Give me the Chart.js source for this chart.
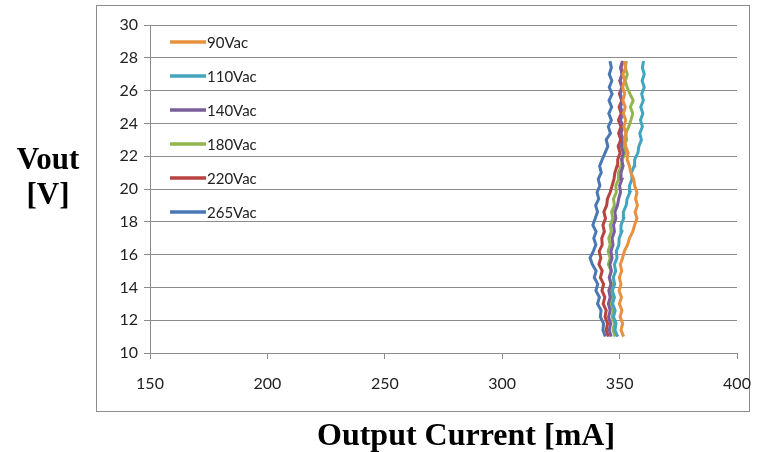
<!DOCTYPE html>
<html>
<head>
<meta charset="utf-8">
<script src="https://cdn.jsdelivr.net/npm/chart.js@4.4.1/dist/chart.umd.min.js"></script>
<style>
  body { margin: 0; background: #fff; }
  #wrap { position: relative; width: 762px; height: 452px; }
  canvas { position: absolute; left: 0; top: 0; }
  .ttl { position: absolute; font-family: 'Liberation Serif', serif; font-weight: bold; color: #000; white-space: nowrap; }
</style>
</head>
<body>
<div id="wrap">
  <canvas id="myChart" width="762" height="452"></canvas>
  <div class="ttl" style="left:8px; width:80px; top:141px; text-align:center; font-size:31px; line-height:35px;">Vout<br>[V]</div>
  <div class="ttl" style="left:317px; top:418px; font-size:32px; line-height:32px;">Output Current [mA]</div>
</div>
<script>
// output voltage steps (y)
const vout = [11.0, 11.4, 11.8, 12.2, 12.6, 13.0, 13.4, 13.8, 14.2, 14.6, 15.0, 15.4, 15.8, 16.2, 16.6,
  17.0, 17.4, 17.8, 18.2, 18.6, 19.0, 19.4, 19.8, 20.2, 20.6, 21.0, 21.4, 21.8, 22.2, 22.6,
  23.0, 23.4, 23.8, 24.2, 24.6, 25.0, 25.4, 25.8, 26.2, 26.6, 27.0, 27.4, 27.8];

// output current in mA, one array per input voltage
const i90 = [351.7, 350.6, 351.3, 350.2, 351.0, 349.9, 350.8, 349.8, 350.6, 349.9, 350.9, 350.3, 351.3, 352.0, 353.4,
  354.2, 355.6, 356.4, 357.4, 356.6, 357.6, 356.8, 357.4, 356.4, 356.0, 354.8, 354.2, 353.2, 353.6, 352.6,
  352.0, 352.8, 351.8, 352.6, 351.6, 352.4, 351.4, 352.2, 351.3, 352.1, 351.4, 352.6, 352.0];
const i110 = [349.2, 348.0, 348.5, 347.4, 348.1, 347.0, 347.8, 346.9, 347.9, 347.3, 348.3, 347.8, 348.9, 348.6, 349.7,
  349.8, 350.9, 350.6, 351.7, 351.6, 352.8, 353.2, 354.4, 354.2, 355.3, 355.0, 356.2, 356.4, 357.8, 358.2,
  359.3, 358.6, 359.7, 358.9, 359.9, 359.0, 360.1, 359.4, 360.5, 359.6, 360.5, 359.7, 360.2];
const i140 = [346.4, 345.6, 346.2, 345.3, 346.0, 345.2, 346.0, 345.4, 346.3, 345.6, 346.5, 345.9, 346.8, 346.3, 347.2,
  346.8, 347.8, 347.4, 348.4, 348.0, 349.1, 349.6, 350.4, 350.0, 351.0, 350.6, 351.5, 350.8, 351.6, 350.7,
  351.5, 350.6, 351.4, 350.4, 351.3, 350.4, 351.2, 350.3, 351.1, 350.2, 351.0, 350.4, 351.2];
const i180 = [348.1, 347.2, 347.8, 346.8, 347.4, 346.2, 347.0, 345.9, 346.7, 345.6, 346.4, 345.2, 346.0, 345.1, 346.0,
  345.4, 346.5, 346.0, 347.1, 346.6, 347.8, 347.4, 348.6, 348.4, 349.6, 349.5, 350.7, 351.2, 352.4, 351.8,
  353.0, 352.6, 353.9, 354.8, 355.6, 354.6, 355.8, 354.4, 353.2, 352.4, 353.3, 352.4, 352.9];
const i220 = [345.2, 344.3, 344.9, 343.8, 344.3, 343.0, 343.7, 342.5, 343.2, 341.8, 342.6, 341.2, 342.0, 341.3, 342.6,
  342.4, 343.5, 342.9, 344.0, 343.3, 344.5, 344.8, 346.0, 346.8, 347.6, 348.0, 348.9, 349.2, 350.2, 349.4,
  350.5, 349.6, 350.6, 349.5, 350.7, 349.8, 350.9, 349.9, 351.0, 350.1, 351.2, 350.6, 351.5];
const i265 = [343.9, 342.9, 343.2, 341.8, 342.1, 340.6, 341.4, 339.9, 340.7, 339.2, 340.0, 338.4, 337.4, 338.8, 339.9,
  339.0, 340.0, 338.6, 339.6, 340.6, 339.8, 341.1, 340.4, 341.6, 340.9, 342.2, 341.5, 342.6, 343.8, 345.0,
  344.3, 346.1, 345.2, 346.5, 345.4, 346.6, 345.5, 346.8, 345.6, 346.7, 345.6, 346.5, 345.9];

const seriesNames = ['90Vac', '110Vac', '140Vac', '180Vac', '220Vac', '265Vac'];
const seriesValues = [i90, i110, i140, i180, i220, i265];
const seriesColors = ['#E8913F', '#42A5BD', '#7B5E9E', '#93B54F', '#B8433F', '#4A78B4'];

const xTicks = [150, 200, 250, 300, 350, 400];
const yTicks = [10, 12, 14, 16, 18, 20, 22, 24, 26, 28, 30];

const tickFont = { family: 'Lato, "Open Sans", sans-serif', size: 16 };

// frame around the chart and legend inside the plot
const framePlugin = {
  id: 'frame',
  beforeDraw(chart) {
    const c = chart.ctx;
    c.save();
    c.fillStyle = '#fff';
    c.fillRect(0, 0, chart.width, chart.height);
    c.strokeStyle = '#8c8c8c';
    c.lineWidth = 1;
    c.strokeRect(96.5, 5.5, 653, 406);
    c.restore();
  },
  afterDatasetsDraw(chart) {
    const c = chart.ctx;
    c.save();
    c.font = '15px Lato, "Open Sans", sans-serif';
    c.textBaseline = 'middle';
    chart.data.datasets.forEach((ds, i) => {
      const y = 42 + i * 34;
      c.strokeStyle = ds.borderColor;
      c.lineWidth = 3.5;
      c.beginPath();
      c.moveTo(170, y);
      c.lineTo(206, y);
      c.stroke();
      c.fillStyle = '#222';
      c.fillText(ds.label, 207, y + 1);
    });
    c.restore();
  }
};

const ctx = document.getElementById('myChart');
new Chart(ctx, {
  type: 'scatter',
  data: {
    datasets: seriesNames.map((name, k) => ({
      label: name,
      data: vout.map((v, i) => ({ x: seriesValues[k][i], y: v })),
      showLine: true,
      borderColor: seriesColors[k],
      backgroundColor: seriesColors[k],
      borderWidth: 3,
      pointRadius: 0,
      tension: 0,
      fill: false
    }))
  },
  options: {
    responsive: false,
    animation: false,
    layout: { padding: { left: 96, top: 25, right: 25, bottom: 40 } },
    plugins: {
      legend: { display: false },
      tooltip: { enabled: false }
    },
    scales: {
      x: {
        type: 'linear',
        min: 150,
        max: 400,
        afterBuildTicks: (s) => { s.ticks = xTicks.map(v => ({ value: v })); },
        afterFit: (s) => { s.height = 59; s.paddingLeft = 0; s.paddingRight = 0; },
        grid: { drawOnChartArea: false, drawTicks: true, tickLength: 6, color: '#8c8c8c' },
        border: { color: '#8c8c8c' },
        ticks: { color: '#222', font: tickFont, padding: 15, maxRotation: 0 }
      },
      y: {
        type: 'linear',
        min: 10,
        max: 30,
        afterBuildTicks: (s) => { s.ticks = yTicks.map(v => ({ value: v })); },
        afterFit: (s) => { s.width = 54; },
        grid: { color: '#8c8c8c', drawTicks: true, tickLength: 6 },
        border: { color: '#8c8c8c' },
        ticks: { color: '#222', font: tickFont, padding: 6 }
      }
    }
  },
  plugins: [framePlugin]
});
</script>
</body>
</html>
